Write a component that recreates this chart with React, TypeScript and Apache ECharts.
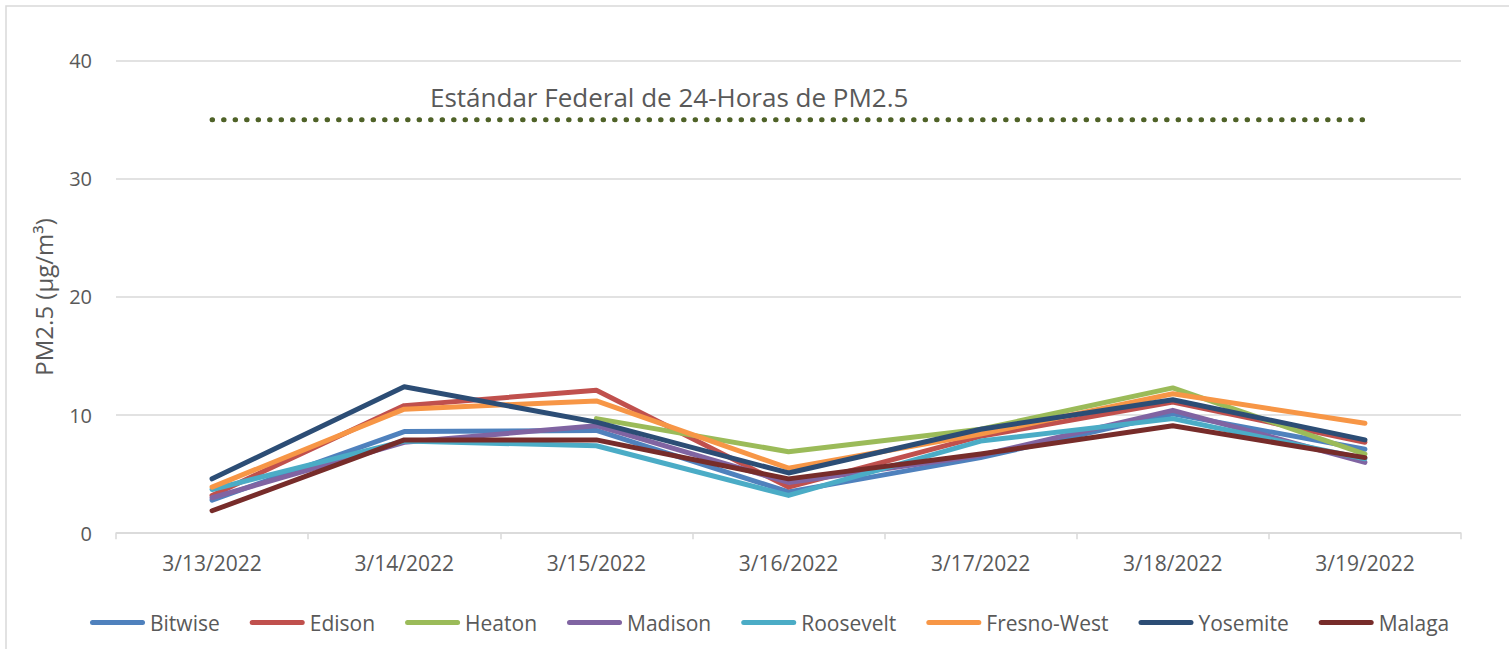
import React, { useEffect, useRef } from "react";
import * as echarts from "echarts";

const dates = ["3/13/2022", "3/14/2022", "3/15/2022", "3/16/2022", "3/17/2022", "3/18/2022", "3/19/2022"];
const bitwise = [2.8, 8.6, 8.7, 3.5, 6.4, 10.1, 7.1];
const edison = [3.2, 10.8, 12.1, 3.9, 8.2, 11.1, 7.7];
const heaton = [null, null, 9.7, 6.9, 8.8, 12.3, 6.7];
const madison = [3.0, 7.7, 9.1, 4.3, 6.6, 10.4, 6.0];
const roosevelt = [3.7, 7.8, 7.4, 3.2, 7.8, 9.7, 6.3];
const fresnoWest = [3.9, 10.5, 11.2, 5.5, 8.4, 11.8, 9.3];
const yosemite = [4.6, 12.4, 9.4, 5.1, 8.8, 11.3, 7.9];
const malaga = [1.9, 7.9, 7.9, 4.6, 6.7, 9.1, 6.4];
const federalStandard = [35, 35, 35, 35, 35, 35, 35];

const seriesNames = ["Bitwise", "Edison", "Heaton", "Madison", "Roosevelt", "Fresno-West", "Yosemite", "Malaga"];
const seriesValues = [bitwise, edison, heaton, madison, roosevelt, fresnoWest, yosemite, malaga];
const seriesColors = ["#4F81BD", "#C0504D", "#9BBB59", "#8064A2", "#4BACC6", "#F79646", "#2C4D75", "#772C2A"];

const standardLabel = "Estándar Federal de 24-Horas de PM2.5";
const yAxisName = "PM2.5 (µg/m³)";
const yTicks = { min: 0, max: 40, interval: 10 };

const FONT = "'Open Sans', sans-serif";
const TEXT = "#595959";

export default function App() {
  const ref = useRef<HTMLDivElement>(null);
  useEffect(() => {
    if (!ref.current) return;
    const chart = echarts.init(ref.current, undefined, { renderer: "svg" });
    const legendIcon = "path://M2.5,0 H52.5 A2.5,2.5 0 0 1 52.5,5 H2.5 A2.5,2.5 0 0 1 2.5,0 Z";
    const series: any[] = seriesNames.map((name, i) => ({
      name,
      type: "line",
      data: seriesValues[i],
      showSymbol: false,
      symbol: "none",
      connectNulls: false,
      lineStyle: { color: seriesColors[i], width: 5, cap: "round", join: "round" },
      itemStyle: { color: seriesColors[i] },
    }));
    series.push({
      name: "standard",
      type: "line",
      data: federalStandard,
      symbol: "none",
      silent: true,
      z: 1,
      lineStyle: { color: "#4F6228", width: 5, type: [0.5, 11], cap: "round" },
    });
    chart.setOption({
      animation: false,
      textStyle: { fontFamily: FONT },
      grid: { left: 116, right: 48, top: 60.7, bottom: 115.8, containLabel: false },
      legend: {
        data: seriesNames.map((n) => ({ name: n, icon: legendIcon })),
        left: 85,
        top: 607,
        itemWidth: 55,
        itemHeight: 5,
        itemGap: 30,
        textStyle: { color: TEXT, fontSize: 21, fontFamily: FONT },
      },
      xAxis: {
        type: "category",
        data: dates,
        boundaryGap: true,
        axisLine: { lineStyle: { color: "#D9D9D9", width: 1.5 } },
        axisTick: { show: true, length: 6, lineStyle: { color: "#D9D9D9", width: 1.5 } },
        axisLabel: { color: TEXT, fontSize: 21, margin: 19, fontFamily: FONT },
      },
      yAxis: {
        type: "value",
        min: yTicks.min,
        max: yTicks.max,
        interval: yTicks.interval,
        name: yAxisName,
        nameLocation: "middle",
        nameGap: 61,
        nameTextStyle: { color: TEXT, fontSize: 24, fontFamily: FONT },
        axisLine: { show: false },
        axisTick: { show: false },
        axisLabel: { color: TEXT, fontSize: 20, margin: 24, fontFamily: FONT },
        splitLine: { lineStyle: { color: "#D9D9D9", width: 1.5 } },
      },
      graphic: [
        {
          type: "rect",
          shape: { x: 6, y: 6, width: 1530, height: 700 },
          style: { fill: "none", stroke: "#D9D9D9", lineWidth: 1.5 },
          silent: true,
        },
        {
          type: "text",
          left: 430,
          top: 84,
          style: { text: standardLabel, fill: TEXT, fontSize: 26, fontFamily: FONT },
        },
      ],
      series,
    });
    return () => chart.dispose();
  }, []);
  return (
    <div
      ref={ref}
      style={{ position: "absolute", left: 0, top: 0, width: 1509, height: 649, background: "#fff" }}
    />
  );
}
